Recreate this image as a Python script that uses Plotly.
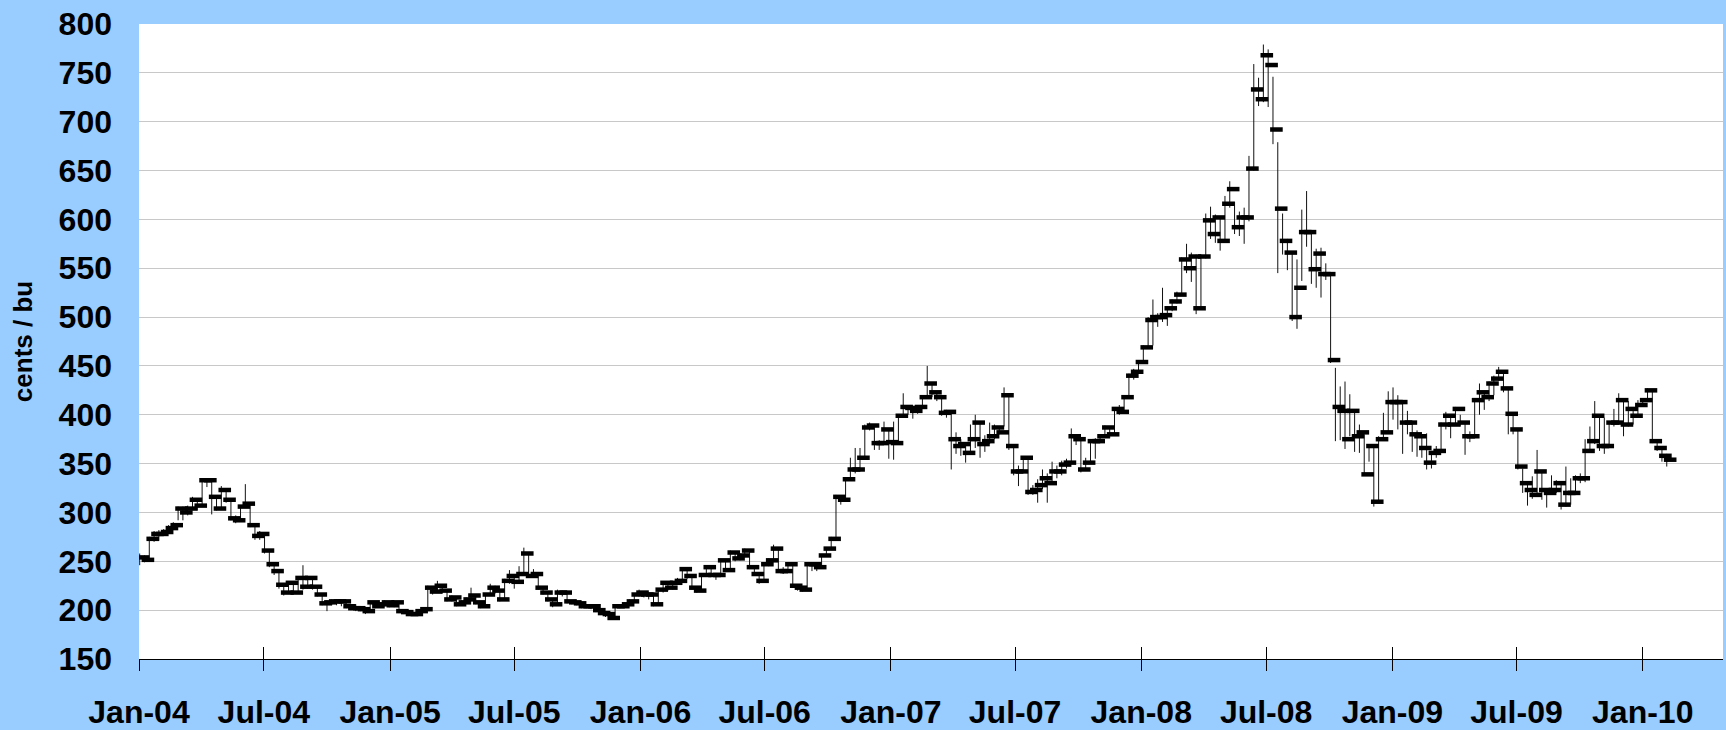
import pandas as pd
import plotly.graph_objects as go

# weekly corn futures, cents per bushel, one bar per week from the first Friday of 2004
close = [
    254, 251.5, 273, 278, 278, 280, 284, 287, 304, 300,
    304, 313, 307, 333, 333, 316, 304, 323, 313, 294,
    292, 306, 309, 287, 276, 278, 261, 247, 240, 226,
    218, 228, 218, 233, 224, 233, 224, 216, 207, 208,
    209, 209, 209, 204, 202, 202, 201, 199, 208, 204,
    206, 208, 205, 208, 199, 198, 196, 196, 199, 201,
    223, 219, 225, 220, 211, 213, 206, 208, 211, 215,
    208, 204, 216, 223, 220, 211, 230, 235, 229, 237,
    258, 235, 237, 223, 218, 211, 206, 218, 218, 209,
    208, 207, 204, 204, 204, 200, 197, 196, 192, 204,
    204, 206, 209, 216, 218, 216, 216, 206, 221, 228,
    223, 228, 230, 242, 235, 223, 220, 236, 244, 236,
    236, 251, 241, 259, 253, 256, 261, 244, 237, 230,
    247, 251, 263, 240, 240, 247, 225, 223, 221, 247,
    247, 244, 256, 263, 273, 316, 313, 334, 344, 344,
    356, 387, 389, 371, 371, 385, 372, 371, 399, 408,
    407, 404, 408, 418, 432, 423, 418, 402, 403, 375,
    368, 370, 361, 375, 392, 370, 373, 378, 387, 382,
    420, 368, 342, 342, 356, 321, 323, 328, 335, 330,
    342, 342, 349, 351, 378, 375, 344, 351, 373, 373,
    378, 387, 380, 406, 403, 418, 440, 444, 454, 469,
    497, 500, 500, 502, 509, 516, 523, 559, 550, 562,
    509, 562, 599, 585, 602, 578, 616, 631, 592, 602,
    602, 652, 733, 723, 768, 758, 692, 611, 578, 566,
    500, 530, 587, 587, 549, 565, 544, 544, 456, 408,
    404, 375, 404, 378, 382, 339, 368, 311, 375, 382,
    413, 413, 413, 392, 392, 380, 378, 366, 351, 361,
    363, 390, 399, 390, 406, 392, 378, 378, 415, 423,
    418, 432, 437, 444, 427, 401, 385, 347, 330, 323,
    318, 342, 323, 320, 323, 330, 308, 320, 320, 335,
    335, 363, 373, 399, 368, 368, 392, 392, 415, 390,
    406, 399, 410, 415, 425, 373, 366, 358, 354,
]

high = [
    258, 256, 275, 281, 282, 283, 287, 290, 306, 306,
    307, 316, 314, 335, 335, 333, 317, 327, 323, 312,
    297, 307, 329, 309, 287, 281, 278, 262, 248, 240,
    226, 229, 228, 234, 246, 235, 233, 225, 216, 210,
    211, 211, 210, 209, 205, 206, 203, 202, 209, 208,
    208, 210, 208, 209, 208, 200, 198, 197, 200, 202,
    225, 224, 230, 225, 220, 215, 213, 210, 213, 223,
    215, 209, 217, 227, 225, 220, 232, 241, 236, 245,
    264, 258, 242, 237, 224, 218, 211, 221, 220, 218,
    210, 209, 207, 206, 206, 204, 200, 198, 196, 205,
    206, 208, 211, 217, 221, 219, 218, 216, 222, 229,
    228, 229, 233, 244, 242, 235, 224, 237, 246, 244,
    238, 252, 251, 261, 260, 258, 263, 261, 244, 237,
    248, 253, 267, 263, 244, 248, 247, 226, 224, 248,
    249, 248, 257, 264, 275, 318, 316, 336, 356, 366,
    366, 390, 392, 389, 374, 393, 386, 393, 400, 422,
    410, 408, 410, 420, 450, 432, 424, 418, 405, 403,
    382, 375, 372, 390, 400, 392, 379, 392, 390, 387,
    428, 420, 368, 348, 357, 356, 328, 334, 344, 340,
    352, 348, 353, 355, 386, 378, 375, 356, 373, 376,
    380, 389, 387, 407, 410, 420, 442, 447, 456, 471,
    500, 518, 504, 530, 511, 518, 526, 561, 575, 566,
    564, 564, 606, 613, 605, 602, 624, 639, 618, 608,
    612, 665, 759, 745, 779, 774, 746, 679, 606, 580,
    566, 559, 610, 629, 588, 570, 571, 555, 545, 448,
    429, 434, 421, 404, 390, 380, 370, 368, 378, 402,
    424, 428, 420, 412, 404, 392, 384, 378, 381, 363,
    368, 392, 403, 399, 408, 400, 392, 383, 416, 432,
    424, 434, 440, 449, 445, 427, 401, 385, 345, 330,
    337, 364, 342, 325, 338, 333, 330, 347, 335, 338,
    340, 375, 388, 414, 398, 397, 393, 406, 422, 415,
    414, 407, 415, 417, 427, 425, 374, 366, 360,
]

low = [
    246, 249, 250, 270, 271, 276, 279, 283, 292, 292,
    297, 303, 302, 306, 326, 298, 302, 303, 310, 292,
    289, 291, 305, 285, 272, 272, 258, 244, 236, 222,
    215, 217, 216, 217, 221, 222, 221, 214, 205, 199,
    205, 205, 204, 202, 200, 199, 199, 196, 198, 202,
    203, 204, 203, 203, 197, 196, 194, 194, 195, 198,
    201, 216, 218, 217, 209, 209, 204, 205, 207, 210,
    206, 202, 203, 215, 217, 209, 211, 227, 222, 228,
    237, 233, 233, 221, 216, 209, 203, 205, 214, 207,
    206, 205, 202, 202, 201, 198, 195, 193, 190, 192,
    202, 203, 205, 208, 214, 213, 211, 204, 206, 218,
    220, 221, 226, 229, 232, 221, 218, 220, 234, 234,
    231, 236, 239, 241, 250, 251, 254, 242, 235, 227,
    230, 245, 250, 238, 237, 239, 223, 220, 219, 221,
    240, 240, 243, 255, 262, 273, 308, 312, 333, 340,
    342, 356, 384, 364, 364, 370, 355, 354, 370, 398,
    400, 396, 401, 406, 417, 418, 414, 399, 397, 344,
    360, 358, 351, 360, 366, 356, 362, 370, 375, 380,
    388, 364, 338, 327, 341, 318, 318, 310, 324, 310,
    330, 335, 338, 345, 351, 369, 341, 343, 350, 355,
    372, 378, 376, 380, 400, 401, 417, 436, 443, 452,
    469, 471, 490, 495, 491, 506, 514, 522, 545, 536,
    503, 508, 560, 580, 576, 568, 577, 612, 585, 583,
    575, 598, 650, 716, 720, 715, 677, 545, 564, 548,
    496, 488, 537, 572, 534, 530, 520, 538, 453, 373,
    374, 365, 378, 362, 361, 338, 352, 306, 310, 376,
    382, 395, 385, 360, 380, 362, 357, 356, 344, 345,
    356, 362, 385, 376, 389, 388, 359, 372, 376, 400,
    405, 414, 420, 435, 423, 380, 380, 344, 320, 307,
    314, 317, 313, 305, 318, 320, 303, 306, 308, 318,
    330, 331, 362, 370, 363, 360, 367, 388, 390, 378,
    388, 390, 398, 408, 413, 371, 363, 352, 347,
]

weeks = pd.date_range("2004-01-02", periods=len(close), freq="7D")

BG = "#99CCFF"
FONT = "Liberation Sans, Arial, sans-serif"

# high-low ranges as one broken line
bar_x, bar_y = [], []
for d, h, l in zip(weeks, high, low):
    bar_x += [d, d, None]
    bar_y += [l, h, None]

fig = go.Figure()
fig.add_trace(go.Scatter(
    x=bar_x, y=bar_y, mode="lines",
    line={"color": "#111111", "width": 1},
    hoverinfo="skip", showlegend=False,
))
# close tick sits to the right of the range line
fig.add_trace(go.Scatter(
    x=weeks + pd.Timedelta(days=5), y=close, mode="markers",
    marker={"symbol": "line-ew", "size": 9, "color": "black",
            "line": {"color": "black", "width": 4.5}},
    showlegend=False,
))
# empty trace so the second x axis (upper half of the crossing ticks) is drawn
fig.add_trace(go.Scatter(x=[], y=[], xaxis="x2", showlegend=False))

fig.update_layout(
    template="none",
    width=1726,
    height=730,
    paper_bgcolor=BG,
    plot_bgcolor="white",
    margin={"l": 139, "r": 3, "t": 24, "b": 71},
    font={"family": FONT, "color": "black"},
    showlegend=False,
    xaxis={
        "type": "date",
        "range": ["2004-01-01", "2010-04-28"],
        "tick0": "2004-01-01",
        "dtick": "M6",
        "tickformat": "%b-%y",
        "showgrid": False,
        "zeroline": False,
        "showline": True,
        "linecolor": "black",
        "linewidth": 1,
        "ticks": "outside",
        "ticklen": 11,
        "tickwidth": 1,
        "tickcolor": "black",
        "tickfont": {"size": 32, "weight": "bold"},
        "ticklabelstandoff": 14,
        "automargin": False,
    },
    xaxis2={
        "type": "date",
        "matches": "x",
        "overlaying": "x",
        "anchor": "y",
        "side": "bottom",
        "tick0": "2004-01-01",
        "dtick": "M6",
        "showgrid": False,
        "zeroline": False,
        "showline": False,
        "ticks": "inside",
        "ticklen": 12,
        "tickwidth": 1,
        "tickcolor": "black",
        "showticklabels": False,
    },
    yaxis={
        "range": [150, 800],
        "dtick": 50,
        "showgrid": True,
        "gridcolor": "#C8C8C8",
        "gridwidth": 1,
        "zeroline": False,
        "showline": False,
        "ticks": "",
        "tickfont": {"size": 32, "weight": "bold"},
        "ticklabelstandoff": 26,
        "automargin": False,
        "title": {"text": "cents / bu", "font": {"size": 26, "weight": "bold"}, "standoff": 18},
    },
)

# drop the page margin so the 1726x730 figure fills the window exactly
fig.write_html(
    "out.html",
    config={"displayModeBar": False},
    post_script="document.body.style.margin='0';document.body.style.overflow='hidden';",
)
